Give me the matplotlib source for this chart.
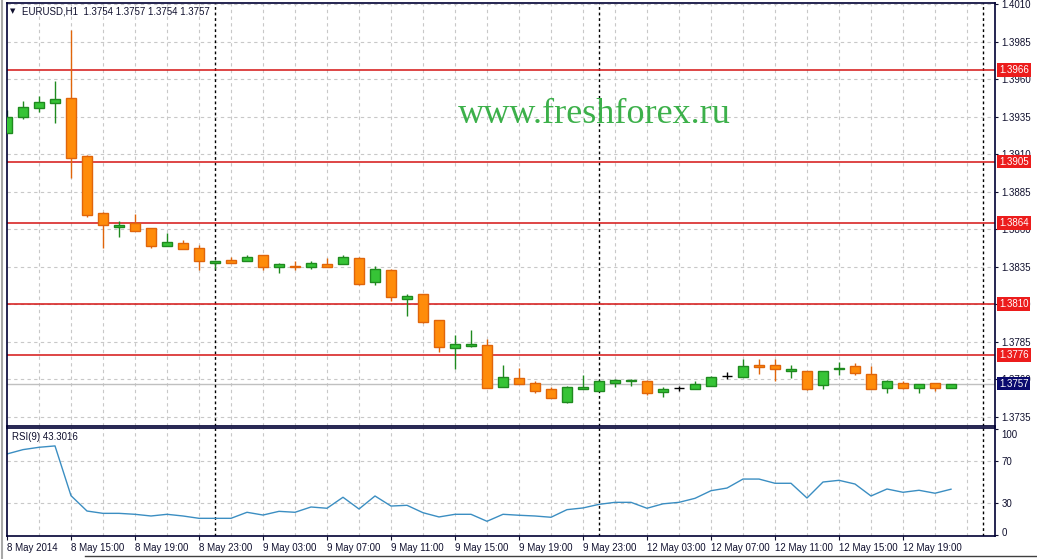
import matplotlib
matplotlib.use("Agg")
import matplotlib.pyplot as plt
import matplotlib.transforms as mtransforms
import numpy as np

# EURUSD H1, 8 May 11:00 -> 12 May 19:00 (weekend skipped)
opens = [1.39240, 1.39347, 1.39407, 1.39440, 1.39473, 1.39087, 1.38707, 1.38613, 1.38640, 1.38607,
         1.38487, 1.38507, 1.38473, 1.38373, 1.38393, 1.38387, 1.38427, 1.38347, 1.38353, 1.38347,
         1.38367, 1.38367, 1.38407, 1.38247, 1.38327, 1.38133, 1.38167, 1.37993, 1.37807, 1.37820,
         1.37827, 1.37547, 1.37607, 1.37573, 1.37533, 1.37447, 1.37533, 1.37520, 1.37573, 1.37587,
         1.37587, 1.37513, 1.37540, 1.37533, 1.37553, 1.37620, 1.37613, 1.37693, 1.37693, 1.37653,
         1.37653, 1.37560, 1.37667, 1.37687, 1.37633, 1.37540, 1.37573, 1.37540, 1.37573, 1.37540]
highs = [1.39393, 1.39453, 1.39487, 1.39587, 1.39927, 1.39093, 1.38713, 1.38653, 1.38700, 1.38607,
         1.38573, 1.38527, 1.38493, 1.38393, 1.38413, 1.38427, 1.38427, 1.38373, 1.38387, 1.38387,
         1.38407, 1.38427, 1.38413, 1.38353, 1.38333, 1.38167, 1.38167, 1.37993, 1.37893, 1.37927,
         1.37867, 1.37693, 1.37673, 1.37587, 1.37547, 1.37553, 1.37627, 1.37593, 1.37600, 1.37600,
         1.37593, 1.37547, 1.37553, 1.37587, 1.37620, 1.37647, 1.37733, 1.37733, 1.37733, 1.37693,
         1.37653, 1.37653, 1.37713, 1.37707, 1.37687, 1.37593, 1.37587, 1.37567, 1.37573, 1.37570]
lows = [1.39240, 1.39333, 1.39380, 1.39307, 1.38940, 1.38680, 1.38473, 1.38547, 1.38587, 1.38473,
        1.38487, 1.38467, 1.38327, 1.38333, 1.38373, 1.38387, 1.38327, 1.38307, 1.38327, 1.38333,
        1.38347, 1.38367, 1.38227, 1.38227, 1.38120, 1.38020, 1.37973, 1.37780, 1.37667, 1.37813,
        1.37540, 1.37547, 1.37567, 1.37507, 1.37473, 1.37440, 1.37533, 1.37520, 1.37547, 1.37553,
        1.37493, 1.37480, 1.37520, 1.37533, 1.37553, 1.37600, 1.37613, 1.37633, 1.37587, 1.37607,
        1.37527, 1.37533, 1.37627, 1.37627, 1.37533, 1.37507, 1.37533, 1.37507, 1.37520, 1.37540]
closes = [1.39347, 1.39413, 1.39447, 1.39467, 1.39073, 1.38693, 1.38627, 1.38627, 1.38587, 1.38487,
          1.38513, 1.38467, 1.38387, 1.38387, 1.38373, 1.38413, 1.38347, 1.38367, 1.38347, 1.38373,
          1.38347, 1.38413, 1.38233, 1.38333, 1.38147, 1.38153, 1.37980, 1.37813, 1.37833, 1.37833,
          1.37540, 1.37613, 1.37567, 1.37520, 1.37473, 1.37547, 1.37547, 1.37587, 1.37593, 1.37593,
          1.37507, 1.37533, 1.37540, 1.37567, 1.37613, 1.37620, 1.37687, 1.37680, 1.37667, 1.37667,
          1.37533, 1.37653, 1.37673, 1.37640, 1.37533, 1.37587, 1.37540, 1.37567, 1.37540, 1.37570]
rsi = [76.6, 80.7, 82.9, 84.2, 37.2, 22.7, 20.5, 20.5, 19.6, 18.0,
       19.6, 18.0, 15.8, 15.8, 15.8, 21.5, 18.9, 22.4, 21.5, 26.5,
       25.3, 35.7, 24.6, 36.9, 27.4, 28.1, 21.1, 17.1, 19.6, 19.6,
       13.0, 19.6, 18.7, 18.0, 16.8, 24.0, 25.6, 29.0, 30.9, 30.9,
       25.3, 29.5, 30.9, 34.7, 41.9, 44.4, 52.9, 52.9, 48.9, 48.9,
       35.0, 50.1, 51.7, 48.2, 36.9, 43.5, 40.4, 42.3, 39.5, 43.3016]

level_prices = [1.3966, 1.3905, 1.3864, 1.3810, 1.3776]
bid = 1.3757
separators = [13, 37, 61]  # day starts: 9 May, 12 May, 13 May
time_ticks = [0, 4, 8, 12, 16, 20, 24, 28, 32, 36, 40, 44, 48, 52, 56]
time_labels = ['8 May 2014', '8 May 15:00', '8 May 19:00', '8 May 23:00', '9 May 03:00',
               '9 May 07:00', '9 May 11:00', '9 May 15:00', '9 May 19:00', '9 May 23:00',
               '12 May 03:00', '12 May 07:00', '12 May 11:00', '12 May 15:00', '12 May 19:00']
price_ticks = [1.4010, 1.3985, 1.3960, 1.3935, 1.3910, 1.3885, 1.3860, 1.3835,
               1.3810, 1.3785, 1.3760, 1.3735]
rsi_ticks = [100, 70, 30, 0]

plt.rcParams['font.family'] = ['Liberation Sans', 'DejaVu Sans']
txt = '#10102e'
frame = '#000033'
grid_kw = dict(color='#c8c8c8', linestyle=(0, (3, 3)), linewidth=0.8)

W, H = 1037, 559
fig = plt.figure(figsize=(W / 100, H / 100), dpi=100)
ax = fig.add_axes([7 / W, 1 - 425.5 / H, 988 / W, 422.5 / H])
ax2 = fig.add_axes([7 / W, 1 - 536 / H, 988 / W, 108.5 / H])

x = np.arange(len(opens))
o = np.array(opens); c = np.array(closes); hi = np.array(highs); lo = np.array(lows)

for a in (ax, ax2):
    a.set_xlim(0, 61.75)
    for xx in range(2, 61, 2):
        a.axvline(xx, zorder=0, **grid_kw)
    for s in separators:
        a.axvline(s, color='black', linestyle=(0, (2, 2)), linewidth=1, zorder=1)
    for sp in a.spines.values():
        sp.set_color(frame)
        sp.set_linewidth(1.2)

# price panel
ax.set_ylim(1.3729, 1.40107)
for p in price_ticks:
    ax.axhline(p, zorder=0, **grid_kw)
ax.axhline(bid, color='#c0c0c0', linewidth=1, zorder=0.5)
for p in level_prices:
    ax.axhline(p, color='#d41414', linewidth=1.1, zorder=1.5)

up = c > o
down = c < o
flat = c == o
w = 0.625
ax.vlines(x[up], lo[up], hi[up], color='#1f8a1f', linewidth=1, zorder=2)
ax.vlines(x[down], lo[down], hi[down], color='#e0650a', linewidth=1, zorder=2)
ax.vlines(x[flat], lo[flat], hi[flat], color='black', linewidth=1, zorder=2)
ax.bar(x[up], c[up] - o[up], bottom=o[up], width=w, color='#36c436',
       edgecolor='#1f8a1f', linewidth=1, zorder=3)
ax.bar(x[down], o[down] - c[down], bottom=c[down], width=w, color='#ff8c0a',
       edgecolor='#e0650a', linewidth=1, zorder=3)
ax.hlines(o[flat], x[flat] - w / 2, x[flat] + w / 2, color='black', linewidth=1, zorder=3)

ax.yaxis.tick_right()
ax.set_yticks(price_ticks)
ax.set_yticklabels([f'{p:.4f}' for p in price_ticks])
ax.tick_params(axis='y', direction='out', length=2.5, width=0.8, pad=2,
               labelsize=7, colors=txt)
ax.set_xticks([])

ytr = mtransforms.blended_transform_factory(ax.transAxes, ax.transData)
for p in level_prices:
    ax.text(1.0 + 4 / 988, p, f'{p:.4f}', transform=ytr, ha='left', va='center',
            fontsize=7, color='white', clip_on=False, zorder=5,
            bbox=dict(boxstyle='square,pad=0.2', fc='#ec1c1c', ec='none'))
ax.text(1.0 + 4 / 988, bid, f'{bid:.4f}', transform=ytr, ha='left', va='center',
        fontsize=7, color='white', clip_on=False, zorder=5,
        bbox=dict(boxstyle='square,pad=0.2', fc='#0a0a6e', ec='none'))

ax.text(15 / 988, 1 - 9 / 422.5, f'EURUSD,H1  {opens[-1]:.4f} {highs[-1]:.4f} '
        f'{lows[-1]:.4f} {closes[-1]:.4f}', transform=ax.transAxes,
        ha='left', va='center', fontsize=7, color=txt, zorder=6)
ax.text(5.5 / 988, 1 - 8.5 / 422.5, '\u25bc', transform=ax.transAxes, ha='center',
        va='center', fontsize=5, color=txt, family='DejaVu Sans', zorder=6)
ax.text(0.594, 1 - 120 / 422.5, 'www.freshforex.ru', transform=ax.transAxes,
        ha='center', va='baseline', fontsize=26, family='Liberation Serif',
        color='#3cb04a', zorder=4)

# RSI panel
ax2.set_ylim(-0.9, 101.6)
for v in (70, 30):
    ax2.axhline(v, zorder=0, **grid_kw)
ax2.plot(x, rsi, color='#3b8ec2', linewidth=1, zorder=2)
ax2.yaxis.tick_right()
ax2.set_yticks(rsi_ticks)
ax2.set_yticklabels([str(v) for v in rsi_ticks])
ax2.tick_params(axis='y', direction='out', length=2.5, width=0.8, pad=2,
                labelsize=7, colors=txt)
lbls = ax2.get_yticklabels()
lbls[0].set_transform(lbls[0].get_transform() +
                      mtransforms.ScaledTranslation(0, -5 / 100, fig.dpi_scale_trans))
lbls[3].set_transform(lbls[3].get_transform() +
                      mtransforms.ScaledTranslation(0, 3 / 100, fig.dpi_scale_trans))
ax2.set_xticks(time_ticks)
ax2.set_xticklabels(time_labels, ha='left')
ax2.tick_params(axis='x', direction='out', length=3, width=0.8, pad=2,
                labelsize=7, colors=txt)
ax2.text(5 / 988, 1 - 10 / 108.5, f'RSI(9) {rsi[-1]:.4f}', transform=ax2.transAxes,
         ha='left', va='center', fontsize=7, color=txt)

# window frame bits
fig.add_artist(plt.Line2D([1.5 / W, 1.5 / W], [0, 1], color='#a8a8a8', linewidth=1.5))
fig.add_artist(plt.Line2D([85 / W, 1], [1 - 556 / H, 1 - 556 / H], color='#404040',
                          linewidth=1))

fig.savefig('out.png', dpi=100)
